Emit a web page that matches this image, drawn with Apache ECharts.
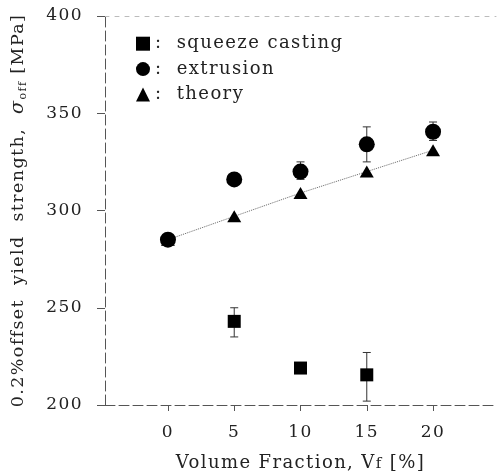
<!DOCTYPE html>
<html><head><meta charset="utf-8">
<script src="https://cdn.jsdelivr.net/npm/echarts@6/dist/echarts.min.js"></script>
<style>html,body{margin:0;padding:0;background:#fff}#c{width:499px;height:473px}</style>
</head><body><div id="c"></div>
<script>
// ---- data ----
const volumeFractions = [0, 5, 10, 15, 20];
const squeezeX = [5, 10, 15];
const squeezeY = [243, 219, 215.5];
const squeezeLow = [235, 217, 202];
const squeezeHigh = [250, 221, 227];
const extrusionY = [285, 316, 320, 334, 340.5];
const extrusionLow = [285, 313, 316, 325, 336];
const extrusionHigh = [285, 319, 325, 343, 345.5];
const theoryY = [285, 297, 309, 320, 331];

// The original figure uses a widely letter-spaced typewriter face.
(function () {
  const SP = '1.4px';
  const P = CanvasRenderingContext2D.prototype;
  const ft = P.fillText, st = P.strokeText, mt = P.measureText;
  P.fillText = function () { this.letterSpacing = SP; return ft.apply(this, arguments); };
  P.strokeText = function () { this.letterSpacing = SP; return st.apply(this, arguments); };
  P.measureText = function () { this.letterSpacing = SP; return mt.apply(this, arguments); };
})();

const FONT = 'DejaVu Serif';
const INK = '#222';

const zip = (xs, ys) => xs.map((x, i) => [x, ys[i]]);
const errData = (xs, lo, hi) => xs.map((x, i) => [x, lo[i], hi[i]]);

function errRender(params, api) {
  const x = api.value(0);
  const lo = api.coord([x, api.value(1)]);
  const hi = api.coord([x, api.value(2)]);
  const w = 4;
  const st = { stroke: '#333', lineWidth: 1 };
  return {
    type: 'group',
    children: [
      { type: 'line', shape: { x1: lo[0], y1: lo[1], x2: hi[0], y2: hi[1] }, style: st },
      { type: 'line', shape: { x1: lo[0] - w, y1: lo[1], x2: lo[0] + w, y2: lo[1] }, style: st },
      { type: 'line', shape: { x1: hi[0] - w, y1: hi[1], x2: hi[0] + w, y2: hi[1] }, style: st }
    ]
  };
}

const chart = echarts.init(document.getElementById('c'));
chart.setOption({
  backgroundColor: '#fff',
  animation: false,
  textStyle: { fontFamily: FONT, color: INK },
  grid: { left: 105, right: 3, top: 16, bottom: 68, outerBoundsMode: 'none', containLabel: false },
  legend: {
    orient: 'vertical', left: 131, top: 29, itemGap: 6,
    itemWidth: 14, itemHeight: 14,
    textStyle: { fontFamily: FONT, fontSize: 18, color: INK },
    formatter: n => ':  ' + n,
    data: [
      { name: 'squeeze casting', icon: 'rect', itemStyle: { color: '#000' } },
      { name: 'extrusion', icon: 'circle', itemStyle: { color: '#000' } },
      { name: 'theory', icon: 'triangle', itemStyle: { color: '#000' } }
    ]
  },
  xAxis: [{
    type: 'value', min: -4.75, max: 24.75,
    name: 'Volume Fraction, V{sub|f} [%]', nameLocation: 'middle', nameGap: 49,
    nameTextStyle: { fontFamily: FONT, fontSize: 18, color: INK,
      rich: { sub: { fontFamily: FONT, fontSize: 15, color: INK } } },
    axisLine: { show: true, onZero: false, lineStyle: { color: '#555', width: 1, type: [10, 4] } },
    axisTick: { show: true, length: 6, customValues: volumeFractions, lineStyle: { color: '#555' } },
    axisLabel: { customValues: volumeFractions, margin: 18, fontFamily: FONT, fontSize: 17, color: INK },
    splitLine: { show: false }
  }, {
    type: 'value', position: 'top', min: -4.75, max: 24.75,
    axisLine: { show: true, lineStyle: { color: '#bbb', width: 1, type: [4, 6] } },
    axisTick: { show: false }, axisLabel: { show: false }, splitLine: { show: false }
  }],
  yAxis: {
    type: 'value', min: 200, max: 400, interval: 50,
    name: '0.2%offset  yield  strength,  {s|σ}{sub|off} [MPa]',
    nameLocation: 'middle', nameGap: 76, nameRotate: 90,
    nameTextStyle: { fontFamily: FONT, fontSize: 17.5, color: INK,
      rich: {
        s: { fontFamily: FONT, fontSize: 19, fontStyle: 'italic', color: INK },
        sub: { fontFamily: FONT, fontSize: 11, color: INK, padding: [9, 0, 0, 0] }
      } },
    axisLine: { show: true, onZero: false, lineStyle: { color: '#555', width: 1, type: [10, 4] } },
    axisTick: { show: true, length: 8, lineStyle: { color: '#555' } },
    axisLabel: { margin: 22, fontFamily: FONT, fontSize: 17, color: INK },
    splitLine: { show: false }
  },
  series: [
    {
      name: 'theory', type: 'line', data: zip(volumeFractions, theoryY),
      symbol: 'triangle', symbolSize: [14, 12], showSymbol: true,
      itemStyle: { color: '#000', opacity: 1 },
      lineStyle: { color: '#666', width: 1, type: 'dotted' }, z: 2
    },
    {
      name: 'squeeze err', type: 'custom', renderItem: errRender,
      data: errData(squeezeX, squeezeLow, squeezeHigh), z: 1, silent: true
    },
    {
      name: 'extrusion err', type: 'custom', renderItem: errRender,
      data: errData(volumeFractions, extrusionLow, extrusionHigh), z: 1, silent: true
    },
    {
      name: 'squeeze casting', type: 'scatter', data: zip(squeezeX, squeezeY),
      symbol: 'rect', symbolSize: 13, itemStyle: { color: '#000', opacity: 1 }, z: 3
    },
    {
      name: 'extrusion', type: 'scatter', data: zip(volumeFractions, extrusionY),
      symbol: 'circle', symbolSize: 16, itemStyle: { color: '#000', opacity: 1 }, z: 4
    }
  ]
});
</script></body></html>
